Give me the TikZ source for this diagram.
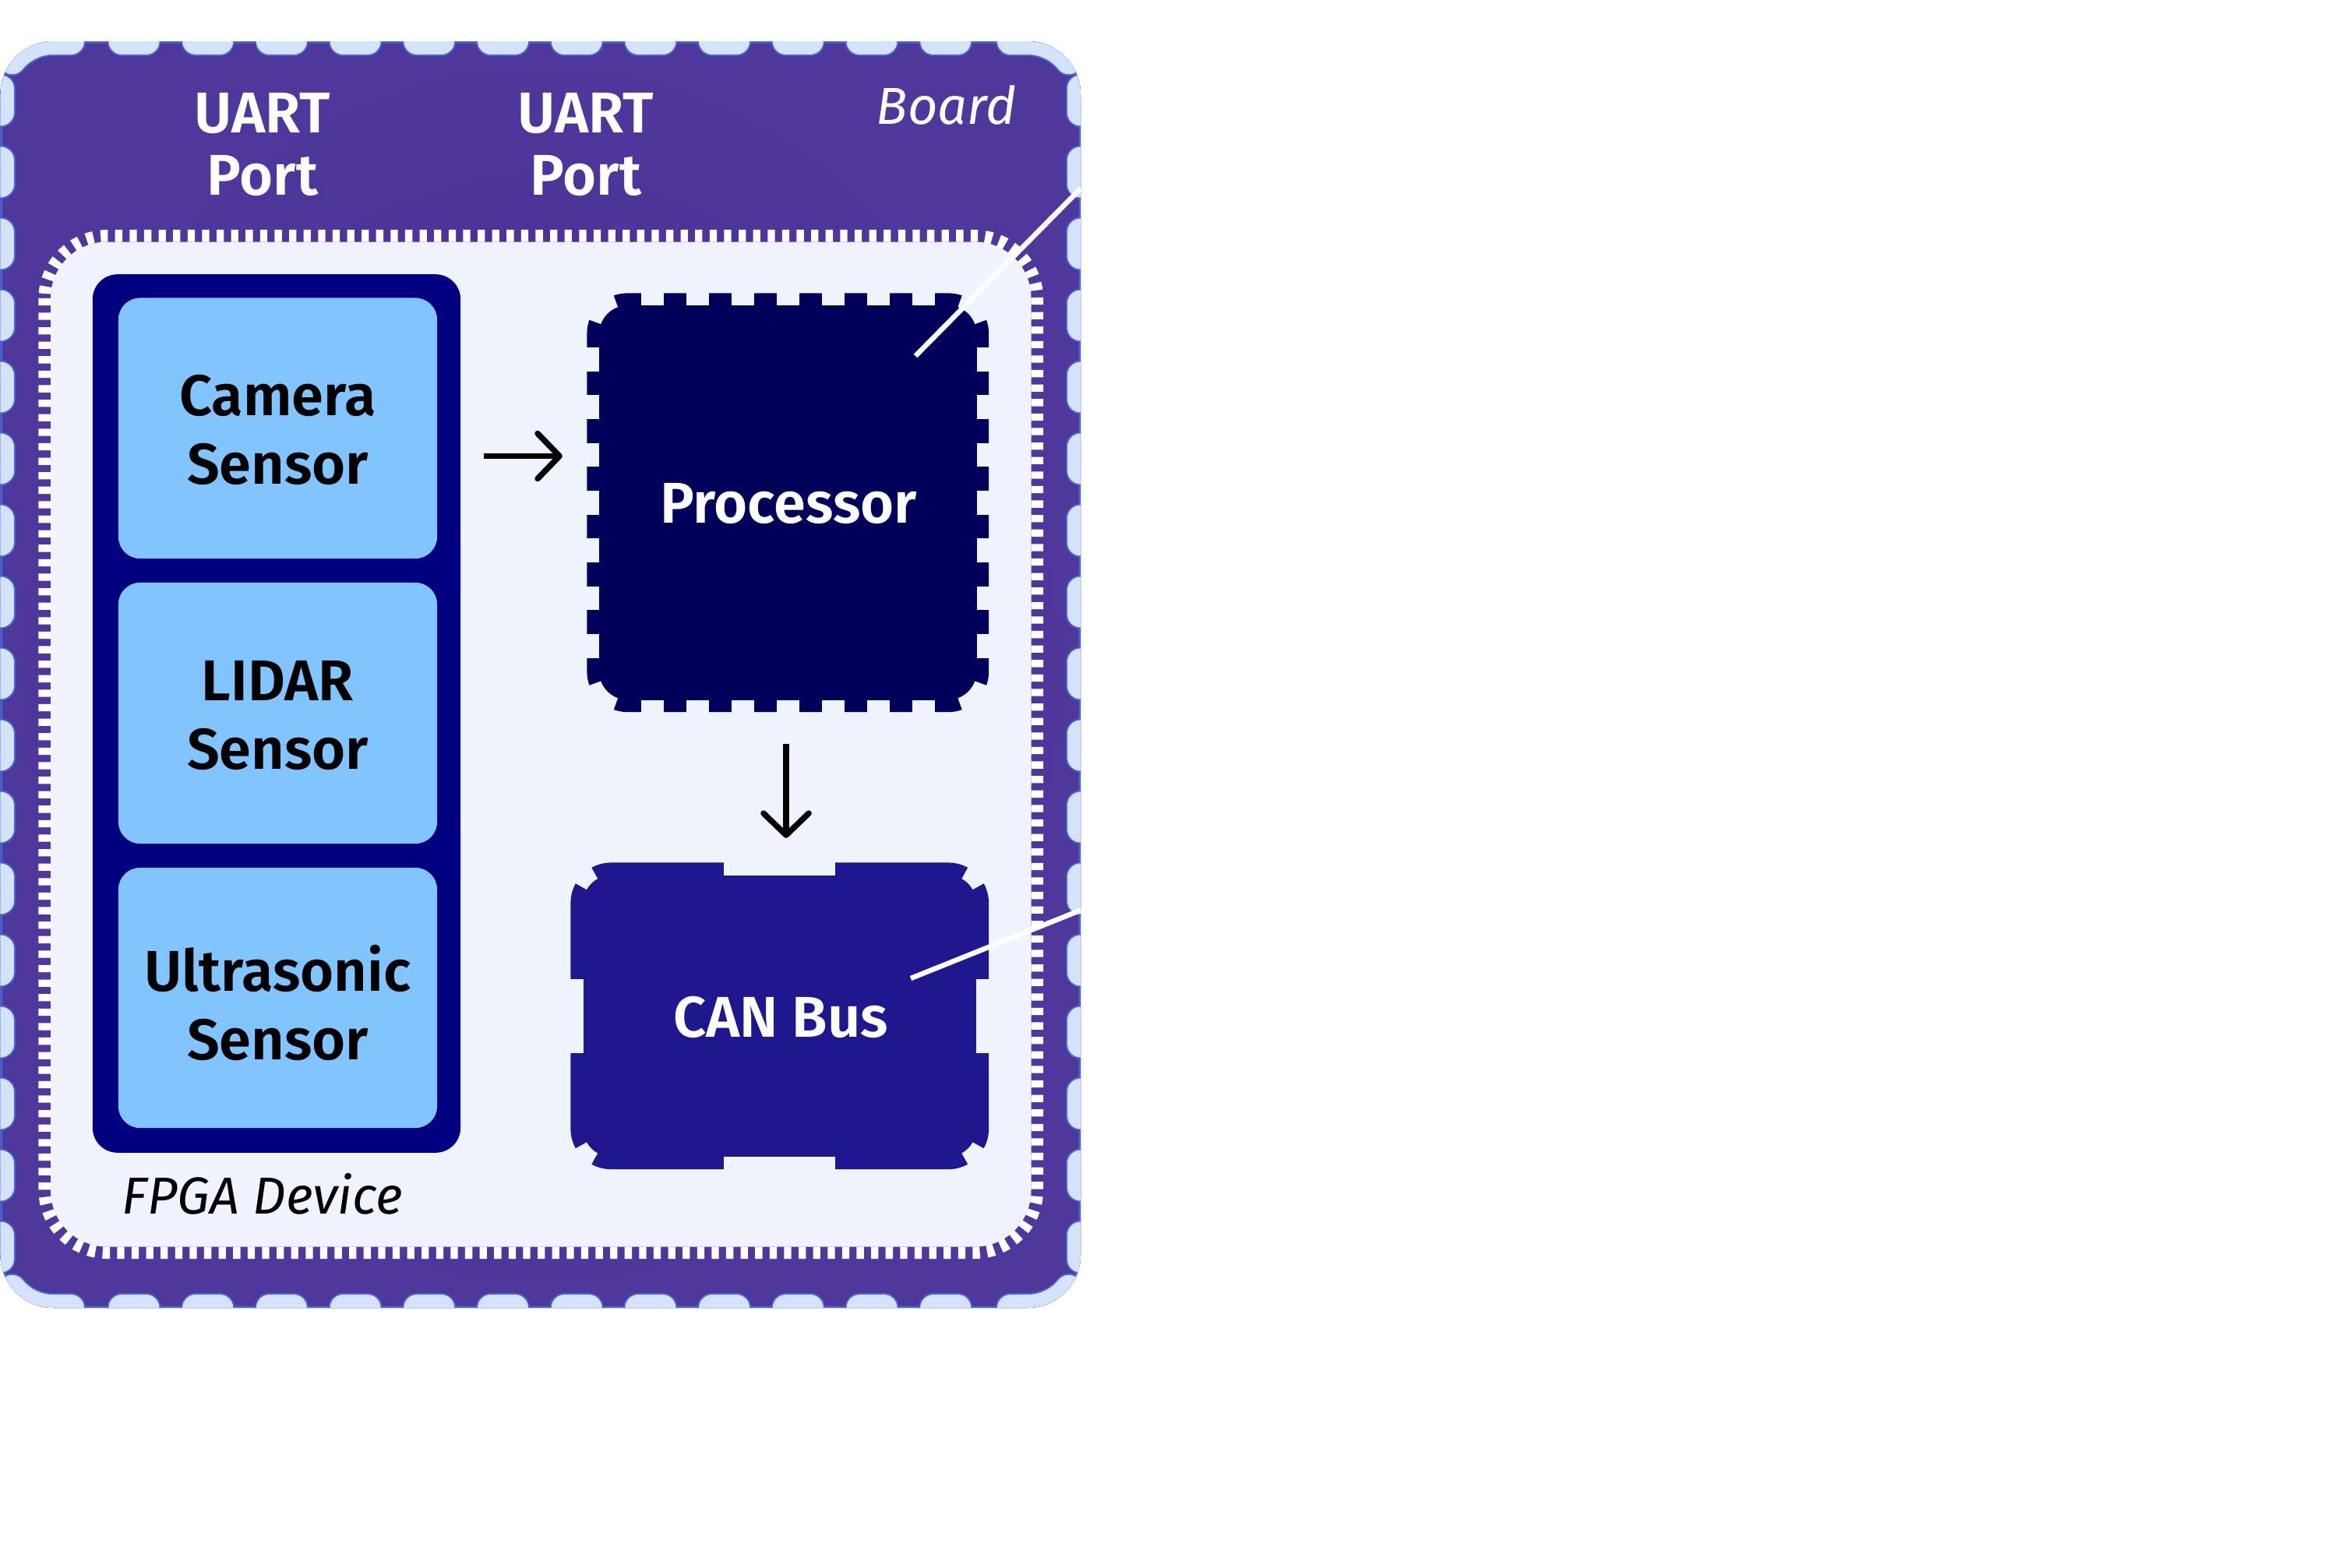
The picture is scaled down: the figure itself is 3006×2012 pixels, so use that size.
\documentclass[tikz,border=0pt]{standalone}
\usepackage{fontspec}
\setmainfont{Fira Sans}[BoldFont={Fira Sans SemiBold}]
\usetikzlibrary{arrows.meta,calc}
\definecolor{boardin}{HTML}{43288F}
\definecolor{boardout}{HTML}{4F389B}
\definecolor{bumplight}{HTML}{D4E2FC}
\definecolor{bumpblue}{HTML}{4A64D0}
\definecolor{fpgafill}{HTML}{F1F4FE}
\definecolor{groupnavy}{HTML}{000080}
\definecolor{sensorblue}{HTML}{82C4FF}
\definecolor{procnavy}{HTML}{00005A}
\definecolor{canindigo}{HTML}{1F178D}

\newcommand\boardbumps[1]{%
  \foreach \k in {0,...,11}{
    \draw[#1] ({172+94.7*\k-15.5},53) -- ({172+94.7*\k+15.5},53);
    \draw[#1] ({172+94.7*\k-15.5},1679) -- ({172+94.7*\k+15.5},1679);
  }
  \foreach \k in {-8,...,8}{
    \draw[#1] (0.5,{865+92*\k-15.5}) -- (0.5,{865+92*\k+15.5});
    \draw[#1] (1387,{865+92*\k-15.5}) -- (1387,{865+92*\k+15.5});
  }
  \draw[#1] plot[domain=219:270,samples=20] ({68.5+68*cos(\x)},{121+68*sin(\x)}) -- (91,53);
  \draw[#1] (1297,53) -- plot[domain=270:321,samples=20] ({1319+68*cos(\x)},{121+68*sin(\x)});
  \draw[#1] plot[domain=141:90,samples=20] ({68.5+68*cos(\x)},{1611+68*sin(\x)}) -- (91,1679);
  \draw[#1] (1297,1679) -- plot[domain=90:39,samples=20] ({1319+68*cos(\x)},{1611+68*sin(\x)});
}
\newcommand\cornernotch[5]{%
  \fill[notch] plot[domain=#3:#4,samples=12] ({#1+#5*cos(\x)},{#2+#5*sin(\x)})
    -- ({#1+62*cos(#4)},{#2+62*sin(#4)}) -- ({#1+62*cos(#3)},{#2+62*sin(#3)}) -- cycle;
}

\begin{document}
\begin{tikzpicture}[x=0.01cm,y=-0.01cm,
  box/.style={inner sep=0pt, outer sep=0pt, draw=none},
  lbl/.style={inner sep=0pt, anchor=south, align=center},
  boldlbl/.style={lbl, font=\bfseries\fontsize{21pt}{25pt}\selectfont},
  portlbl/.style={lbl, text=white, font=\bfseries\fontsize{21pt}{22.5pt}\selectfont},
  italbl/.style={inner sep=0pt, font=\itshape\fontsize{19pt}{23pt}\selectfont},
  arr/.style={draw=black, line width=0.075cm, -{Straight Barb[length=0.28cm, width=0.58cm, line cap=round, line join=round]}},
  leader/.style={draw=white, line width=0.065cm},
  bumpout/.style={draw=bumpblue, line width=0.38cm, line cap=round},
  bumpin/.style={draw=bumplight, line width=0.34cm, line cap=round},
  notch/.style={fill=fpgafill}
]
\useasboundingbox (0,0) rectangle (3006,2012);
\fill[white] (0,0) rectangle (3006,2012);

% board
\shade[inner color=boardin, outer color=boardout, rounded corners=0.68cm] (0.5,53) rectangle (1387,1679);
\begin{scope}
  \clip[rounded corners=0.68cm] (0.5,53) rectangle (1387,1679);
  \draw[bumpblue, line width=0.05cm, rounded corners=0.68cm] (0.5,53) rectangle (1387,1679);
  \boardbumps{bumpout}
  \boardbumps{bumpin}
\end{scope}

% FPGA device
\fill[fpgafill, rounded corners=0.72cm] (65,310.5) rectangle (1323.5,1600.5);
\draw[white, line width=0.155cm, dash pattern=on 0.093cm off 0.093cm, rounded corners=0.80cm] (57.25,302.75) rectangle (1331.25,1608.25);

% sensors
\node[box, fill=groupnavy, rounded corners=0.32cm, minimum width=4.72cm, minimum height=11.27cm] (sensors) at (355,916) {};
\node[box, fill=sensorblue, rounded corners=0.28cm, minimum width=4.09cm, minimum height=3.345cm] (camera) at (356.5,549.75) {};
\node[box, fill=sensorblue, rounded corners=0.28cm, minimum width=4.09cm, minimum height=3.35cm] (lidar) at (356.5,915.5) {};
\node[box, fill=sensorblue, rounded corners=0.28cm, minimum width=4.09cm, minimum height=3.34cm] (ultra) at (356.5,1281) {};

% processor
\node[box, fill=procnavy, rounded corners=0.52cm, minimum width=5.155cm, minimum height=5.375cm] (proc) at (1011.25,645.25) {};
\foreach \k in {0,...,6}{
  \fill[notch] ({823+58*\k},375) rectangle ({852+58*\k},392);
  \fill[notch] ({823+58*\k},898.5) rectangle ({852+58*\k},915.5);
  \fill[notch] (752,{446+61.3*\k}) rectangle (769,{476.7+61.3*\k});
  \fill[notch] (1253.5,{446+61.3*\k}) rectangle (1270.5,{476.7+61.3*\k});
}
\cornernotch{805.5}{428.5}{200}{250}{36.5}
\cornernotch{1217}{428.5}{290}{340}{36.5}
\cornernotch{1217}{862}{20}{70}{36.5}
\cornernotch{805.5}{862}{110}{160}{36.5}

% CAN bus
\node[box, fill=canindigo, rounded corners=0.52cm, minimum width=5.365cm, minimum height=3.935cm] (can) at (1000.75,1304.25) {};
\fill[notch] (929,1106) rectangle (1072,1123.5);
\fill[notch] (929,1485) rectangle (1072,1502.5);
\fill[notch] (731,1257) rectangle (748.5,1352);
\fill[notch] (1253,1257) rectangle (1270.5,1352);
\cornernotch{784.5}{1159.5}{209}{241}{36}
\cornernotch{1217}{1159.5}{299}{331}{36}
\cornernotch{1217}{1449}{29}{61}{36}
\cornernotch{784.5}{1449}{119}{151}{36}

% arrows
\coordinate (a1) at (0,585.5);
\draw[arr, shorten <=0.295cm, shorten >=0.315cm] (sensors.east |- a1) -- (proc.west |- a1);
\coordinate (a2) at (1009,0);
\draw[arr, shorten <=0.405cm, shorten >=0.315cm] (proc.south -| a2) -- (can.north -| a2);

% leader lines
\coordinate (l1a) at (1175,457);
\coordinate (l1b) at (1387,242);
\coordinate (l2a) at (1169,1256);
\coordinate (l2b) at (1387,1168.5);
\draw[leader] (l1a) -- (l1b);
\draw[leader] (l2a) -- (l2b);

% labels
\node[boldlbl] (cameraT) at (356.5,623) {Camera\\Sensor};
\node[boldlbl] (lidarT) at (356.5,989) {LIDAR\\Sensor};
\node[boldlbl] (ultraT) at (356.5,1362) {Ultrasonic\\Sensor};
\node[boldlbl, text=white] (procT) at (1012,673.7) {Processor};
\node[boldlbl, text=white] (canT) at (1002,1333) {CAN Bus};
\node[portlbl] (uart1) at (337,252) {UART\\Port};
\node[portlbl] (uart2) at (752,252) {UART\\Port};
\node[italbl, text=white, anchor=south east] (boardT) at (1305,161) {Board};
\node[italbl, anchor=south west] (fpgaT) at (156,1560) {FPGA Device};
\end{tikzpicture}
\end{document}
